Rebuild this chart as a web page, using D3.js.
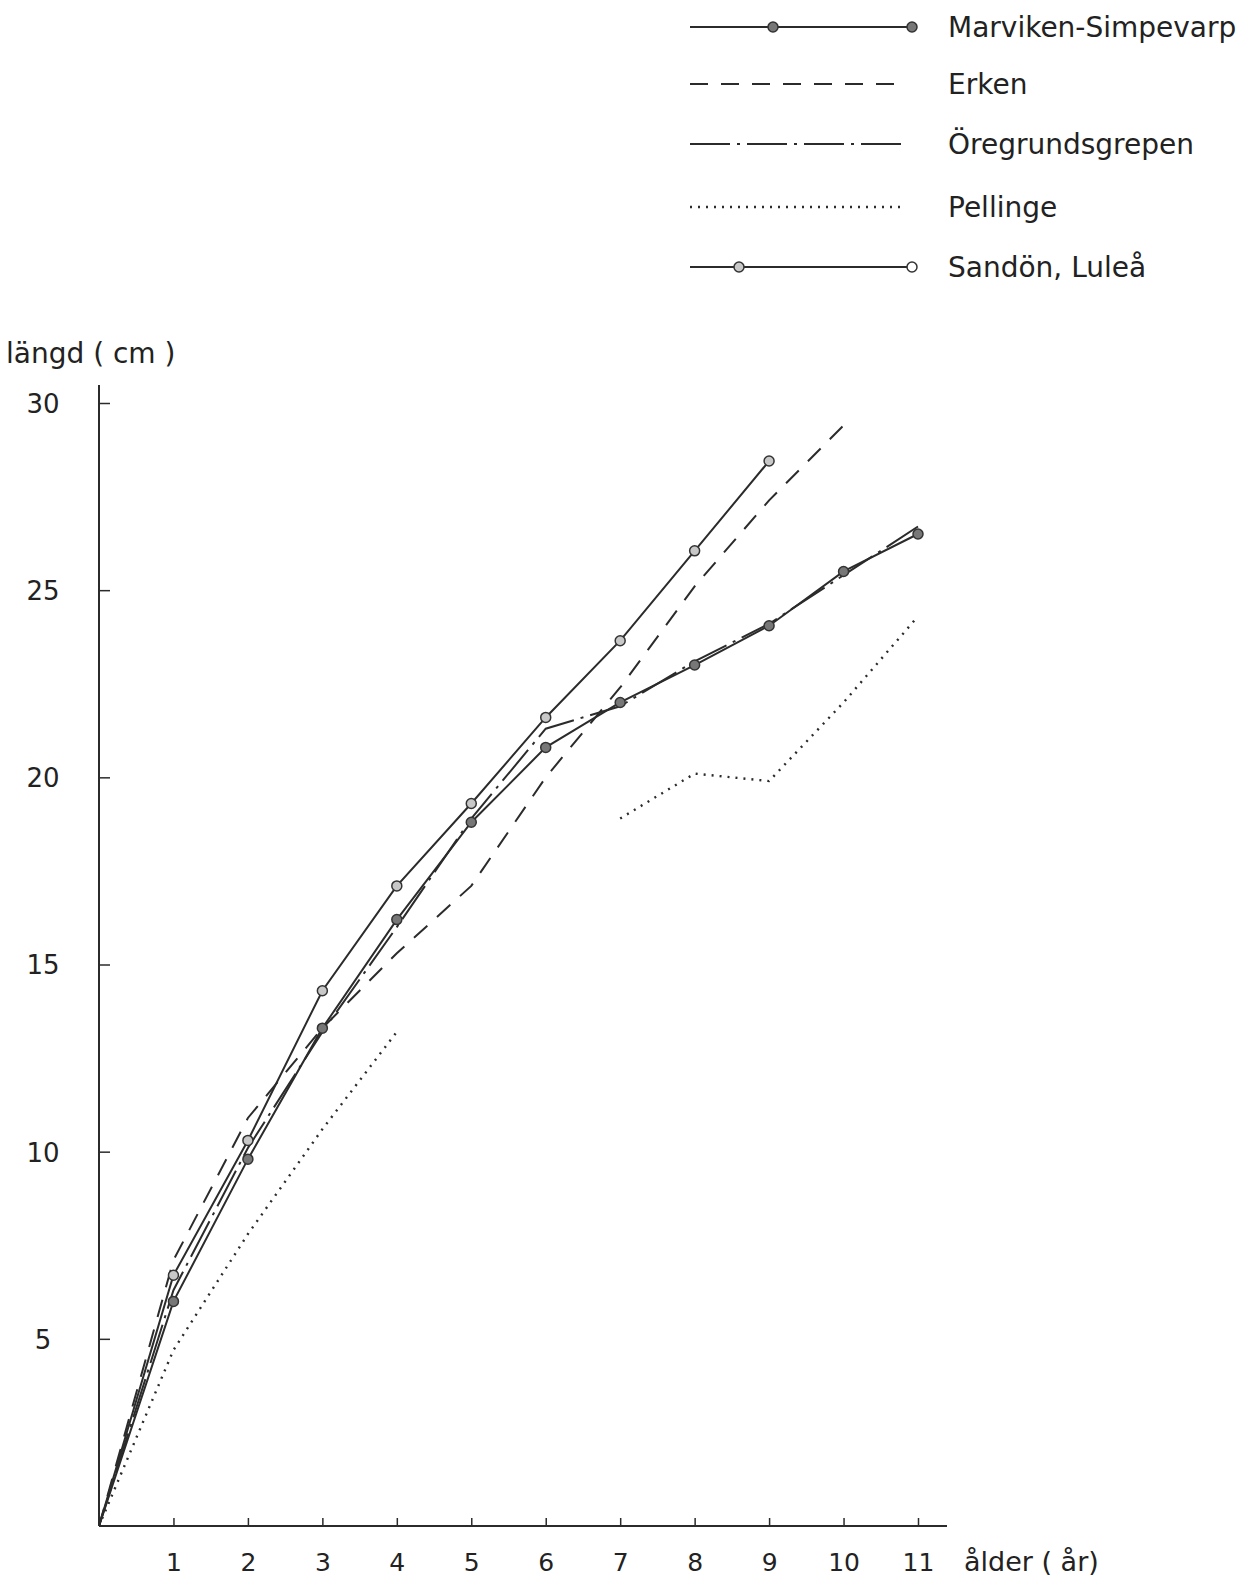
<!DOCTYPE html>
<html>
<head>
<meta charset="utf-8">
<script src="https://cdn.jsdelivr.net/npm/d3@7"></script>
<style>
    body { margin: 0; background: #fff; }
    svg { display: block; }
    text { font-family: "DejaVu Sans", sans-serif; fill: #222; }
</style>
</head>
<body>
<script>
// ages (x) and mean length per age (cm)
const ages = [0, 1, 2, 3, 4, 5, 6, 7, 8, 9, 10, 11];
const marviken = [0, 6.0, 9.8, 13.3, 16.2, 18.8, 20.8, 22.0, 23.0, 24.05, 25.5, 26.5];
const erken = [0, 7.1, 10.9, 13.3, 15.3, 17.1, 20.0, 22.4, 25.1, 27.4, 29.4, null];
const oregrund = [0, 6.3, 10.1, 13.2, 16.0, 18.9, 21.3, 21.9, 23.1, 24.1, 25.4, 26.7];
const pellinge = [0, 4.7, 7.8, 10.6, 13.2, null, null, 18.9, 20.1, 19.9, 22.0, 24.3];
const sandon = [0, 6.7, 10.3, 14.3, 17.1, 19.3, 21.6, 23.65, 26.05, 28.45, null, null];

const seriesNames = ["Marviken-Simpevarp", "Erken", "Öregrundsgrepen", "Pellinge", "Sandön, Luleå"];
const xTicks = [1, 2, 3, 4, 5, 6, 7, 8, 9, 10, 11];
const yTicks = [5, 10, 15, 20, 25, 30];

const width = 1251;
const height = 1580;
const ink = "#2b2b2b";

const series = [
    {name: seriesNames[0], values: marviken, dash: null, marker: "#777"},
    {name: seriesNames[1], values: erken, dash: "18,13", marker: null},
    {name: seriesNames[2], values: oregrund, dash: "40,7,3,7", marker: null},
    {name: seriesNames[3], values: pellinge, dash: "2,6", marker: null},
    {name: seriesNames[4], values: sandon, dash: null, marker: "#c8c8c8"}
];

const xScale = d3.scaleLinear()
                    .domain([0, 11])
                    .range([99, 918]);

const yScale = d3.scaleLinear()
                    .domain([0, 30])
                    .range([1526, 403]);

let svg = d3.select("body")
                .append("svg")
                    .attr("width", width)
                    .attr("height", height);

// y-axis, ticks pointing into the plot
let yAxis = svg.append("g")
                .attr("transform", `translate(${xScale(0)}, 0)`)
                .call(d3.axisLeft(yScale).tickValues(yTicks).tickSize(-11).tickPadding(0));
yAxis.select(".domain").remove();
yAxis.selectAll("line").attr("stroke", ink).attr("stroke-width", 1.5);
yAxis.selectAll("text")
        .attr("x", -56)
        .attr("dy", "0.36em")
        .attr("text-anchor", "middle")
        .style("font-size", "26px")
        .style("font-family", "DejaVu Sans")
        .attr("fill", "#222");
svg.append("line")
        .attr("x1", xScale(0)).attr("x2", xScale(0))
        .attr("y1", 385).attr("y2", yScale(0))
        .attr("stroke", ink).attr("stroke-width", 2);

// x-axis, ticks pointing up
let xAxis = svg.append("g")
                .attr("transform", `translate(0, ${yScale(0)})`)
                .call(d3.axisBottom(xScale).tickValues(xTicks).tickSize(-8).tickPadding(0));
xAxis.select(".domain").remove();
xAxis.selectAll("line").attr("stroke", ink).attr("stroke-width", 1.5);
xAxis.selectAll("text")
        .attr("y", 45)
        .attr("dy", 0)
        .style("font-size", "25px")
        .style("font-family", "DejaVu Sans")
        .attr("fill", "#222");
svg.append("line")
        .attr("x1", xScale(0)).attr("x2", 947)
        .attr("y1", yScale(0)).attr("y2", yScale(0))
        .attr("stroke", ink).attr("stroke-width", 2);

// axis titles
svg.append("text")
        .attr("x", 6)
        .attr("y", 363)
        .style("font-size", "28px")
        .text("längd ( cm )");
svg.append("text")
        .attr("x", 964)
        .attr("y", 1571)
        .style("font-size", "27px")
        .text("ålder ( år)");

// lines
const line = d3.line()
                .defined((d) => d[1] != null)
                .x((d) => xScale(d[0]))
                .y((d) => yScale(d[1]));

let g = svg.append("g");
series.forEach(function(s) {
    let pts = ages.map((a, i) => [a, s.values[i]]);
    g.append("path")
        .datum(pts)
        .attr("d", line)
        .attr("fill", "none")
        .attr("stroke", ink)
        .attr("stroke-width", s.dash == "2,6" ? 2.4 : 2)
        .attr("stroke-dasharray", s.dash);
});

// markers on top
series.forEach(function(s) {
    if (s.marker == null) return;
    let pts = ages.map((a, i) => [a, s.values[i]]).filter((d) => d[1] != null && d[0] > 0);
    g.selectAll(null)
        .data(pts)
        .enter()
            .append("circle")
                .attr("cx", (d) => xScale(d[0]))
                .attr("cy", (d) => yScale(d[1]))
                .attr("r", 5)
                .attr("fill", s.marker)
                .attr("stroke", "#333")
                .attr("stroke-width", 1.5);
});

// legend
const legendY = [27, 84, 144, 207, 267];
let legend = svg.append("g");
series.forEach(function(s, i) {
    let y = legendY[i];
    let x1 = 690, x2 = (s.marker != null) ? 912 : 905;
    legend.append("line")
        .attr("x1", x1).attr("x2", x2)
        .attr("y1", y).attr("y2", y)
        .attr("stroke", ink)
        .attr("stroke-width", s.dash == "2,6" ? 2.4 : 2)
        .attr("stroke-dasharray", s.dash);
    if (s.marker != null) {
        let first = (i == 0) ? 773 : 739;
        legend.append("circle")
            .attr("cx", first).attr("cy", y).attr("r", 5)
            .attr("fill", s.marker).attr("stroke", "#333").attr("stroke-width", 1.5);
        legend.append("circle")
            .attr("cx", x2).attr("cy", y).attr("r", 5)
            .attr("fill", (i == 0) ? s.marker : "#fff").attr("stroke", "#333").attr("stroke-width", 1.5);
    }
    legend.append("text")
        .attr("x", 948)
        .attr("y", y + 10)
        .style("font-size", "28px")
        .text(s.name);
});
</script>
</body>
</html>
